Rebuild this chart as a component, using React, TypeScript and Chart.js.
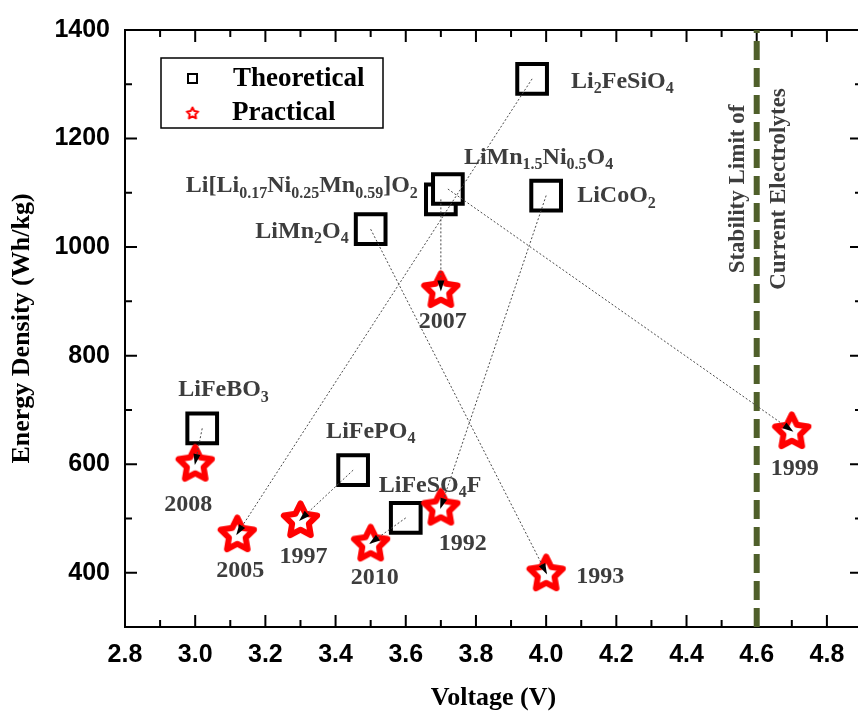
import React, { useEffect, useRef } from "react";
import { Chart, registerables } from "chart.js";

Chart.register(...registerables);

// ---------------- Data ----------------
const materialLabels = [
  "Li_{2}FeSiO_{4}",
  "Li[Li_{0.17}Ni_{0.25}Mn_{0.59}]O_{2}",
  "LiMn_{1.5}Ni_{0.5}O_{4}",
  "LiCoO_{2}",
  "LiMn_{2}O_{4}",
  "LiFeBO_{3}",
  "LiFePO_{4}",
  "LiFeSO_{4}F",
];
const theoreticalVoltage = [3.96, 3.7, 3.72, 4.0, 3.5, 3.02, 3.45, 3.6];
const theoreticalEnergy = [1310, 1088, 1107, 1095, 1033, 666, 589, 501];

const practicalYears = ["2005", "2007", "1999", "1992", "1993", "2008", "1997", "2010"];
const practicalVoltage = [3.12, 3.7, 4.7, 3.7, 4.0, 3.0, 3.3, 3.5];
const practicalEnergy = [472, 922, 662, 521, 400, 602, 498, 455];

const stabilityLimitVoltage = 4.6;
const stabilityText = ["Stability Limit of", "Current Electrolytes"];

const seriesNames = ["Theoretical", "Practical"];
const xTitle = "Voltage (V)";
const yTitle = "Energy Density (Wh/kg)";
const xTickValues = [2.8, 3.0, 3.2, 3.4, 3.6, 3.8, 4.0, 4.2, 4.4, 4.6, 4.8];
const yTickValues = [400, 600, 800, 1000, 1200, 1400];
const xMin = 2.8;
const xMax = 4.9;
const yMin = 300;
const yMax = 1400;

// ---------------- Styles ----------------
const SERIF = '"Liberation Serif", "Times New Roman", serif';
const SANS = '"Liberation Sans", Arial, sans-serif';
const LABEL_COLOR = "#3d3d3d";

// label placement relative to marker (pixels)
const materialPlacement: [number, number, string][] = [
  [39, 1, "left"],
  [-23, -15, "right"],
  [16, -33, "left"],
  [31, -1, "left"],
  [-22, 1, "right"],
  [-24, -40, "left"],
  [-27, -40, "left"],
  [-27, -34, "left"],
];
const yearPlacement: [number, number, string][] = [
  [3, 35, "center"],
  [2, 31, "center"],
  [3, 37, "center"],
  [22, 35, "center"],
  [30, 2, "left"],
  [-7, 40, "center"],
  [3, 36, "center"],
  [4, 33, "center"],
];

function makeStar(R: number, ratio: number, lw: number, stroke: string, fill: string) {
  const size = Math.ceil(2 * (R + lw) + 2);
  const c = document.createElement("canvas");
  c.width = size;
  c.height = size;
  const ctx = c.getContext("2d")!;
  const cx = size / 2;
  const cy = size / 2 + R * 0.08;
  ctx.beginPath();
  for (let i = 0; i < 10; i++) {
    const r = i % 2 === 0 ? R : R * ratio;
    const a = -Math.PI / 2 + (i * Math.PI) / 5;
    const px = cx + r * Math.cos(a);
    const py = cy + r * Math.sin(a);
    if (i === 0) ctx.moveTo(px, py);
    else ctx.lineTo(px, py);
  }
  ctx.closePath();
  ctx.fillStyle = fill;
  ctx.fill();
  ctx.lineJoin = "round";
  ctx.lineWidth = lw;
  ctx.strokeStyle = stroke;
  ctx.stroke();
  return c;
}

function drawRich(
  ctx: CanvasRenderingContext2D,
  text: string,
  x: number,
  y: number,
  align: string,
  size: number,
  color: string
) {
  const parts: { t: string; sub: boolean }[] = [];
  const re = /_\{([^}]*)\}/g;
  let last = 0;
  let m: RegExpExecArray | null;
  while ((m = re.exec(text)) !== null) {
    if (m.index > last) parts.push({ t: text.slice(last, m.index), sub: false });
    parts.push({ t: m[1], sub: true });
    last = m.index + m[0].length;
  }
  if (last < text.length) parts.push({ t: text.slice(last), sub: false });
  const baseFont = `bold ${size}px ${SERIF}`;
  const subFont = `bold ${Math.round(size * 0.66)}px ${SERIF}`;
  let total = 0;
  const widths = parts.map((p) => {
    ctx.font = p.sub ? subFont : baseFont;
    const w = ctx.measureText(p.t).width;
    total += w;
    return w;
  });
  let cx = align === "left" ? x : align === "right" ? x - total : x - total / 2;
  const baseline = y + size * 0.33;
  ctx.fillStyle = color;
  ctx.textAlign = "left";
  ctx.textBaseline = "alphabetic";
  parts.forEach((p, i) => {
    ctx.font = p.sub ? subFont : baseFont;
    ctx.fillText(p.t, cx, p.sub ? baseline + size * 0.22 : baseline);
    cx += widths[i];
  });
}

export default function App() {
  const ref = useRef<HTMLCanvasElement | null>(null);

  useEffect(() => {
    if (!ref.current) return;
    const starImg = makeStar(17.5, 0.5, 6, "#ff0000", "#ffffff");
    const legendStar = makeStar(6, 0.5, 2, "#ff0000", "#ffffff");

    const connectorSets = theoreticalVoltage.map((v, i) => ({
      type: "line" as const,
      label: "connector" + i,
      data: [
        { x: v, y: theoreticalEnergy[i] },
        { x: practicalVoltage[i], y: practicalEnergy[i] },
      ],
      borderColor: "#4a4a4a",
      borderWidth: 1,
      borderDash: [2, 2],
      pointRadius: 0,
      fill: false,
      order: 0,
    }));

    const framePlugin = {
      id: "frameTicks",
      beforeDatasetsDraw(chart: any) {
        const { ctx, chartArea: a, scales } = chart;
        const xs = scales.x;
        const ys = scales.y;
        ctx.save();
        ctx.strokeStyle = "#000";
        ctx.lineWidth = 2;
        ctx.strokeRect(a.left, a.top, a.right - a.left, a.bottom - a.top);
        const major = 12;
        const minor = 7;
        const xMinor = xTickValues.map((v) => v + 0.1);
        const yMinor = yTickValues.map((v) => v - 100).filter((v) => v > yMin);
        ctx.beginPath();
        xTickValues.forEach((v) => {
          const px = xs.getPixelForValue(v);
          ctx.moveTo(px, a.bottom);
          ctx.lineTo(px, a.bottom - major);
          ctx.moveTo(px, a.top);
          ctx.lineTo(px, a.top + major);
        });
        xMinor.forEach((v) => {
          const px = xs.getPixelForValue(v);
          ctx.moveTo(px, a.bottom);
          ctx.lineTo(px, a.bottom - minor);
          ctx.moveTo(px, a.top);
          ctx.lineTo(px, a.top + minor);
        });
        yTickValues.forEach((v) => {
          const py = ys.getPixelForValue(v);
          ctx.moveTo(a.left, py);
          ctx.lineTo(a.left + major, py);
          ctx.moveTo(a.right, py);
          ctx.lineTo(a.right - major, py);
        });
        yMinor.forEach((v) => {
          const py = ys.getPixelForValue(v);
          ctx.moveTo(a.left, py);
          ctx.lineTo(a.left + minor, py);
          ctx.moveTo(a.right, py);
          ctx.lineTo(a.right - minor, py);
        });
        ctx.stroke();
        ctx.restore();
      },
    };

    const annotPlugin = {
      id: "annotations",
      afterDatasetsDraw(chart: any) {
        const { ctx, chartArea: a, scales } = chart;
        const xs = scales.x;
        const ys = scales.y;
        ctx.save();
        // arrowheads
        practicalVoltage.forEach((v, i) => {
          const px = xs.getPixelForValue(v);
          const py = ys.getPixelForValue(practicalEnergy[i]);
          const tx = xs.getPixelForValue(theoreticalVoltage[i]);
          const ty = ys.getPixelForValue(theoreticalEnergy[i]);
          const ang = Math.atan2(py - ty, px - tx);
          const len = 9;
          const hw = 3.5;
          ctx.beginPath();
          ctx.moveTo(px + 2 * Math.cos(ang), py + 2 * Math.sin(ang));
          ctx.lineTo(
            px - len * Math.cos(ang) + hw * Math.sin(ang),
            py - len * Math.sin(ang) - hw * Math.cos(ang)
          );
          ctx.lineTo(
            px - len * Math.cos(ang) - hw * Math.sin(ang),
            py - len * Math.sin(ang) + hw * Math.cos(ang)
          );
          ctx.closePath();
          ctx.fillStyle = "#000";
          ctx.fill();
        });
        // material labels
        materialLabels.forEach((t, i) => {
          const px = xs.getPixelForValue(theoreticalVoltage[i]);
          const py = ys.getPixelForValue(theoreticalEnergy[i]);
          const [dx, dy, al] = materialPlacement[i];
          drawRich(ctx, t, px + dx, py + dy, al, 24, LABEL_COLOR);
        });
        // year labels
        practicalYears.forEach((t, i) => {
          const px = xs.getPixelForValue(practicalVoltage[i]);
          const py = ys.getPixelForValue(practicalEnergy[i]);
          const [dx, dy, al] = yearPlacement[i];
          drawRich(ctx, t, px + dx, py + dy, al, 24, LABEL_COLOR);
        });
        // stability text
        const lx = xs.getPixelForValue(stabilityLimitVoltage);
        const cy = a.top + 159;
        ctx.font = `bold 23px ${SERIF}`;
        ctx.fillStyle = LABEL_COLOR;
        ctx.textAlign = "center";
        ctx.textBaseline = "middle";
        [[-20, stabilityText[0]], [21, stabilityText[1]]].forEach(([dx, t]) => {
          ctx.save();
          ctx.translate(lx + (dx as number), cy);
          ctx.rotate(-Math.PI / 2);
          ctx.fillText(t as string, 0, 1);
          ctx.restore();
        });
        // legend box
        const bx = a.left + 36;
        const by = a.top + 28;
        ctx.strokeStyle = "#000";
        ctx.lineWidth = 1.5;
        ctx.strokeRect(bx, by, 222, 70);
        ctx.lineWidth = 2;
        ctx.strokeRect(bx + 27, by + 16, 9, 9);
        ctx.drawImage(legendStar, bx + 31.5 - legendStar.width / 2, by + 55 - legendStar.height / 2);
        ctx.font = `bold 27px ${SERIF}`;
        ctx.fillStyle = "#000";
        ctx.textAlign = "left";
        ctx.textBaseline = "middle";
        ctx.fillText(seriesNames[0], bx + 72, by + 21);
        ctx.fillText(seriesNames[1], bx + 71, by + 55);
        ctx.restore();
      },
    };

    const chart = new Chart(ref.current, {
      type: "scatter",
      data: {
        datasets: [
          ...connectorSets,
          {
            type: "scatter",
            label: seriesNames[1],
            data: practicalVoltage.map((v, i) => ({ x: v, y: practicalEnergy[i] })),
            pointStyle: starImg as any,
            pointRadius: 20,
            order: 1,
          },
          {
            type: "scatter",
            label: seriesNames[0],
            data: theoreticalVoltage.map((v, i) => ({ x: v, y: theoreticalEnergy[i] })),
            pointStyle: "rect",
            pointRadius: 21,
            pointBorderWidth: 4,
            pointBorderColor: "#000",
            pointBackgroundColor: "#fff",
            borderColor: "#000",
            backgroundColor: "#fff",
            order: 2,
          },
          {
            type: "line",
            label: "Stability limit",
            data: [
              { x: stabilityLimitVoltage, y: yMin },
              { x: stabilityLimitVoltage, y: yMax },
            ],
            borderColor: "#4f5f2a",
            borderWidth: 6,
            borderDash: [19, 8],
            pointRadius: 0,
            fill: false,
            order: 3,
          },
        ] as any,
      },
      options: {
        animation: false,
        responsive: false,
        devicePixelRatio: 1,
        events: [],
        layout: { padding: { left: 0, top: 28, right: 10, bottom: 0 } },
        plugins: {
          legend: { display: false },
          tooltip: { enabled: false },
        },
        scales: {
          x: {
            type: "linear",
            min: xMin,
            max: xMax,
            afterBuildTicks: (s: any) => {
              s.ticks = xTickValues.map((v) => ({ value: v }));
            },
            afterFit: (s: any) => {
              s.height = 90;
            },
            grid: { display: false, drawTicks: false },
            border: { display: false },
            ticks: {
              color: "#000",
              padding: 13,
              autoSkip: false,
              maxRotation: 0,
              font: { family: SANS, size: 25, weight: "bold" },
              callback: (v: any) => Number(v).toFixed(1),
            },
            title: {
              display: true,
              text: xTitle,
              color: "#000",
              font: { family: SERIF, size: 26, weight: "bold" },
              padding: { top: 0, bottom: 3 },
            },
          },
          y: {
            type: "linear",
            min: yMin,
            max: yMax,
            afterBuildTicks: (s: any) => {
              s.ticks = yTickValues.map((v) => ({ value: v }));
            },
            afterFit: (s: any) => {
              s.width = 125;
            },
            grid: { display: false, drawTicks: false },
            border: { display: false },
            ticks: {
              color: "#000",
              padding: 15,
              autoSkip: false,
              font: { family: SANS, size: 25, weight: "bold" },
              callback: (v: any) => String(v),
            },
            title: {
              display: true,
              text: yTitle,
              color: "#000",
              font: { family: SERIF, size: 26, weight: "bold" },
              padding: { top: 7, bottom: 0 },
            },
          },
        },
      } as any,
      plugins: [framePlugin, annotPlugin],
    });
    return () => chart.destroy();
  }, []);

  return (
    <div
      style={{
        position: "fixed",
        left: 0,
        top: 0,
        width: 858,
        height: 717,
        overflow: "hidden",
        background: "#fff",
      }}
    >
      <canvas ref={ref} width={887} height={717} style={{ width: 887, height: 717, display: "block" }} />
    </div>
  );
}
